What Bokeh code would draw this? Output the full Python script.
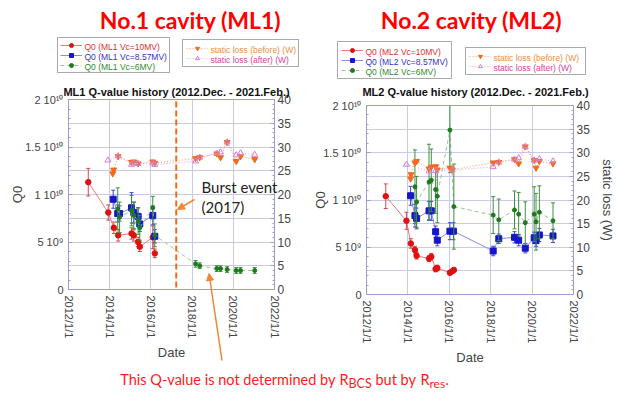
import numpy as np
from bokeh.plotting import figure
from bokeh.models import (Range1d, LinearAxis, FixedTicker, Legend, LegendItem,
                          Label, Arrow, NormalHead, ColumnDataSource, GridBox)
from bokeh.layouts import column
from bokeh.embed import file_html
from bokeh.resources import INLINE

# ---------------- data ----------------
# dates as decimal years, Q0 in units of 1e9, static loss in W
ml1_10mv_date = [2012.96, 2013.93, 2014.20, 2014.41, 2015.06, 2015.17, 2015.38, 2015.46, 2016.09, 2016.19]
ml1_10mv_q0 = [11.3, 8.1, 6.5, 5.7, 5.9, 5.7, 5.0, 4.5, 5.5, 3.8]
ml1_10mv_err = [1.45, 0.8, 0.6, 0.6, 0.6, 0.6, 0.5, 0.5, 1.2, 0.45]

ml1_857mv_date = [2014.17, 2014.39, 2014.48, 2015.06, 2015.17, 2015.38, 2015.46, 2016.09, 2016.19]
ml1_857mv_q0 = [9.5, 8.0, 8.0, 8.6, 8.1, 7.7, 6.9, 7.8, 5.6]
ml1_857mv_err = [0.95, 0.9, 0.8, 1.6, 1.1, 0.9, 0.8, 1.0, 0.7]

ml1_6mv_date = [2014.39, 2014.48, 2015.06, 2015.17, 2015.38, 2015.46, 2016.09, 2016.19,
                2018.17, 2018.37, 2019.20, 2019.38, 2019.70, 2020.14, 2020.35, 2021.04]
ml1_6mv_q0 = [8.5, 7.6, 8.3, 7.8, 7.2, 6.5, 8.6, 5.7, 2.7, 2.5, 2.2, 2.2, 2.1, 2.0, 2.0, 2.0]
ml1_6mv_err = [2.2, 1.6, 1.6, 1.4, 1.4, 1.3, 1.2, 1.2, 0.35, 0.3, 0.3, 0.3, 0.3, 0.3, 0.3, 0.3]

ml1_before_date = [2014.15, 2014.19, 2014.41, 2015.06, 2015.17, 2015.38, 2016.09, 2016.19,
                   2018.17, 2018.37, 2019.20, 2019.38, 2019.70, 2020.14, 2020.35, 2021.04]
ml1_before_w = [24.4, 25.2, 28.0, 26.8, 26.9, 26.5, 26.9, 26.6,
                27.6, 27.8, 28.6, 27.8, 31.0, 27.0, 28.0, 27.4]
ml1_after_date = [2013.91, 2014.41, 2015.06, 2015.17, 2015.38, 2016.09, 2016.19,
                  2018.17, 2018.37, 2019.20, 2019.38, 2019.70, 2020.14, 2020.35, 2021.04]
ml1_after_w = [27.2, 28.1, 26.3, 26.6, 26.5, 26.6, 26.3, 27.0, 27.8, 28.6, 28.9, 31.0, 28.3, 28.7, 28.4]

ml2_10mv_date = [2012.93, 2013.93, 2014.14, 2014.34, 2014.42, 2015.02, 2015.13, 2015.34, 2015.42,
                 2016.03, 2016.14, 2016.22]
ml2_10mv_q0 = [10.4, 7.8, 5.4, 4.7, 4.1, 3.8, 4.0, 2.7, 2.8, 2.3, 2.45, 2.6]
ml2_10mv_err = [1.3, 0.9, 0.5, 0.4, 0.35, 0.3, 0.35, 0.3, 0.3, 0.2, 0.2, 0.2]

ml2_857mv_date = [2014.13, 2014.34, 2014.42, 2015.02, 2015.13, 2015.34, 2015.42, 2016.03, 2016.20,
                  2018.12, 2018.39, 2019.15, 2019.35, 2019.67, 2020.10, 2020.19, 2020.35, 2021.01]
ml2_857mv_q0 = [10.45, 8.35, 8.05, 8.85, 8.85, 6.65, 5.75, 6.7, 6.7,
                4.6, 5.9, 6.05, 5.75, 4.9, 6.0, 5.7, 6.3, 6.2]
ml2_857mv_err = [1.0, 1.2, 1.1, 1.0, 1.0, 0.6, 0.6, 0.9, 0.9,
                 0.5, 0.5, 0.6, 0.6, 0.5, 0.6, 0.6, 0.7, 0.7]

ml2_6mv_date = [2014.34, 2014.42, 2015.02, 2015.13, 2015.34, 2015.42, 2016.03, 2016.22,
                2018.12, 2018.39, 2019.15, 2019.35, 2019.67, 2020.10, 2020.19, 2020.35, 2021.01]
ml2_6mv_q0 = [11.4, 9.8, 11.9, 12.1, 11.1, 10.4, 17.4, 9.3,
              8.4, 7.9, 8.95, 8.5, 7.6, 8.5, 7.7, 8.7, 7.8]
ml2_6mv_err = [3.9, 2.7, 4.0, 3.3, 2.5, 2.8, 4.5, 4.5,
               1.95, 2.2, 2.0, 2.3, 2.2, 2.9, 3.0, 2.8, 1.9]

ml2_before_date = [2014.13, 2014.15, 2014.34, 2014.42, 2015.02, 2015.13, 2015.34, 2015.42, 2016.03, 2016.14,
                   2018.12, 2018.39, 2019.15, 2019.35, 2019.67, 2020.10, 2020.19, 2020.35, 2021.01]
ml2_before_w = [24.5, 25.4, 27.9, 28.2, 26.6, 27.0, 27.1, 26.4, 26.8, 26.4,
                27.9, 28.0, 28.6, 27.7, 31.3, 28.4, 26.8, 28.2, 27.7]
ml2_after_date = [2013.93, 2015.02, 2015.34, 2016.14, 2018.12, 2018.39, 2019.15, 2019.35, 2019.67,
                  2020.10, 2020.35, 2021.01]
ml2_after_w = [27.5, 26.1, 26.2, 26.3, 27.0, 28.0, 28.6, 28.9, 31.3, 28.4, 28.7, 28.2]

burst_date = 2017.23

x_ticks = [2012, 2014, 2016, 2018, 2020, 2022]
x_tick_labels = ["2012/1/1", "2014/1/1", "2016/1/1", "2018/1/1", "2020/1/1", "2022/1/1"]
q_ticks = [0, 5e9, 1e10, 1.5e10, 2e10]
q_tick_labels = ["0", "5 10\u2079", "1 10\u00b9\u2070", "1.5 10\u00b9\u2070", "2 10\u00b9\u2070"]
w_ticks = [0, 5, 10, 15, 20, 25, 30, 35, 40]

# ---------------- styling ----------------
FONT = "Liberation Sans"
FRAME = "#9d9dcf"
GRID = "#c9c9e8"
RED, RED_LINE, RED_BAR = "#e01010", "#e87878", "#d84848"
BLUE, BLUE_LINE, BLUE_BAR = "#1515cc", "#8a8ae2", "#4545d0"
GREEN, GREEN_LINE, GREEN_BAR = "#1e7a1e", "#9cc09c", "#3d8f3d"
ORANGE, ORANGE_LINE = "#f26a1b", "#f4a878"
PINK, PINK_LINE = "#d67fd0", "#e6aee2"
ARROW = "#f08536"
W, H = 617, 391


def make_fig(fw, fh, bl, br, bt, bb, right_label, q_standoff):
    p = figure(frame_width=fw, frame_height=fh, min_border_left=bl, min_border_right=br,
               min_border_top=bt, min_border_bottom=bb,
               x_range=Range1d(2012, 2022), y_range=Range1d(0, 2e10),
               output_backend="svg", toolbar_location=None,
               background_fill_color="white", border_fill_color="white")
    p.frame_align = False
    p.extra_y_ranges = {"loss": Range1d(0, 40)}
    p.outline_line_color = FRAME
    p.outline_line_width = 1

    xa = p.xaxis[0]
    xa.ticker = FixedTicker(ticks=x_ticks)
    xa.major_label_overrides = {t: s for t, s in zip(x_ticks, x_tick_labels)}
    xa.major_label_orientation = "vertical"
    xa.major_label_text_font = FONT
    xa.major_label_text_font_size = "11px"
    xa.major_label_standoff = 6
    xa.axis_label = "Date"
    xa.axis_label_text_font = FONT
    xa.axis_label_text_font_style = "normal"
    xa.axis_label_text_font_size = "13px"
    xa.axis_label_standoff = 4
    xa.major_tick_in = 0
    xa.major_tick_out = 0
    xa.minor_tick_out = 0
    xa.axis_line_color = FRAME

    ya = p.yaxis[0]
    ya.ticker = FixedTicker(ticks=q_ticks, minor_ticks=list(np.arange(0, 2.01e10, 1e9)))
    ya.major_label_overrides = {t: s for t, s in zip(q_ticks, q_tick_labels)}
    ya.major_label_text_font = FONT
    ya.major_label_text_font_size = "11px"
    ya.major_label_standoff = 5
    ya.axis_label = "Q0"
    ya.axis_label_text_font = FONT
    ya.axis_label_text_font_style = "normal"
    ya.axis_label_text_font_size = "13px"
    ya.axis_label_standoff = q_standoff
    ya.major_tick_in = 4
    ya.major_tick_out = 0
    ya.minor_tick_in = 2
    ya.minor_tick_out = 0
    ya.axis_line_color = FRAME
    ya.major_tick_line_color = FRAME
    ya.minor_tick_line_color = FRAME

    ra = LinearAxis(y_range_name="loss",
                    ticker=FixedTicker(ticks=w_ticks, minor_ticks=list(range(0, 41))))
    ra.major_label_text_font = FONT
    ra.major_label_text_font_size = "12px"
    ra.major_label_standoff = 3
    ra.major_tick_in = 4
    ra.major_tick_out = 0
    ra.minor_tick_in = 2
    ra.minor_tick_out = 0
    ra.axis_line_color = FRAME
    ra.major_tick_line_color = FRAME
    ra.minor_tick_line_color = FRAME
    if right_label:
        ra.axis_label = right_label
        ra.axis_label_text_font = FONT
        ra.axis_label_text_font_style = "normal"
        ra.axis_label_text_font_size = "13px"
        ra.axis_label_standoff = 7
    p.add_layout(ra, "right")

    p.xgrid.ticker = FixedTicker(ticks=x_ticks)
    p.ygrid.ticker = FixedTicker(ticks=list(np.arange(0, 2.01e10, 2.5e9)))
    p.xgrid.grid_line_color = GRID
    p.ygrid.grid_line_color = GRID
    return p


def q_series(p, date, q, err, color, bar_color, line_color, marker, size, dash):
    d = np.array(date, dtype=float)
    qv = np.array(q) * 1e9
    ev = np.array(err) * 1e9
    src = ColumnDataSource(dict(x=d, y=qv, lo=qv - ev, hi=qv + ev))
    p.line("x", "y", source=src, line_color=line_color, line_width=1, line_dash=dash)
    p.segment(x0="x", y0="lo", x1="x", y1="hi", source=src, line_color=bar_color, line_width=1)
    p.scatter("x", "lo", source=src, marker="dash", size=4, line_color=bar_color)
    p.scatter("x", "hi", source=src, marker="dash", size=4, line_color=bar_color)
    p.scatter("x", "y", source=src, marker=marker, size=size, fill_color=color, line_color=color)


def loss_series(p, date, w, color, line_color, marker, filled):
    src = ColumnDataSource(dict(x=date, y=w))
    p.line("x", "y", source=src, y_range_name="loss", line_color=line_color,
           line_width=1.2, line_dash="1 2")
    p.scatter("x", "y", source=src, y_range_name="loss", marker=marker, size=6,
              fill_color=color if filled else None, line_color=color, line_width=1)


# ---------------- the two charts ----------------
p1 = make_fig(206, 190, 68, 36, 99, H - 99 - 190, None, -3)
q_series(p1, ml1_10mv_date, ml1_10mv_q0, ml1_10mv_err, RED, RED_BAR, RED_LINE, "circle", 5.5, "solid")
q_series(p1, ml1_857mv_date, ml1_857mv_q0, ml1_857mv_err, BLUE, BLUE_BAR, BLUE_LINE, "square", 6, "solid")
q_series(p1, ml1_6mv_date, ml1_6mv_q0, ml1_6mv_err, GREEN, GREEN_BAR, GREEN_LINE, "circle", 4, "4 3")
loss_series(p1, ml1_before_date, ml1_before_w, ORANGE, ORANGE_LINE, "inverted_triangle", True)
loss_series(p1, ml1_after_date, ml1_after_w, PINK, PINK_LINE, "triangle", False)
p1.segment(x0=[burst_date], y0=[2e8], x1=[burst_date], y1=[2e10], line_color=ORANGE,
           line_width=2, line_dash="6 3")

p2 = make_fig(207, 189, 56, W - 310 - 56 - 207, 105, H - 105 - 189, "static loss (W)", -8)
q_series(p2, ml2_10mv_date, ml2_10mv_q0, ml2_10mv_err, RED, RED_BAR, RED_LINE, "circle", 5.5, "solid")
q_series(p2, ml2_857mv_date, ml2_857mv_q0, ml2_857mv_err, BLUE, BLUE_BAR, BLUE_LINE, "square", 6, "solid")
q_series(p2, ml2_6mv_date, ml2_6mv_q0, ml2_6mv_err, GREEN, GREEN_BAR, GREEN_LINE, "circle", 4, "4 3")
loss_series(p2, ml2_before_date, ml2_before_w, ORANGE, ORANGE_LINE, "inverted_triangle", True)
loss_series(p2, ml2_after_date, ml2_after_w, PINK, PINK_LINE, "triangle", False)

# ---------------- overlay page layer (pixel coordinates, y downwards) ----------------
ov = figure(width=W, height=H, x_range=Range1d(0, W), y_range=Range1d(H, 0),
            x_axis_type=None, y_axis_type=None, min_border=0, output_backend="svg",
            toolbar_location=None, background_fill_alpha=0, border_fill_alpha=0,
            outline_line_color=None)
ov.frame_align = False
ov.xgrid.visible = False
ov.ygrid.visible = False


def proxy(color, line_color, marker, size, dash, width=1, filled=True):
    # legend-only renderers (their single point is NaN, so nothing is drawn on the page)
    ln = ov.line(x=[np.nan], y=[np.nan], line_color=line_color, line_width=width, line_dash=dash)
    mk = ov.scatter(x=[np.nan], y=[np.nan], marker=marker, size=size,
                    fill_color=color if filled else None, line_color=color)
    return [ln, mk]


def boxed_legend(renderers, texts, colors, left, top, pad, glyph_w, text_w):
    ih = 10
    standoff = 3
    hh = 2 * pad + len(texts) * ih
    leg = Legend(items=[LegendItem(label=" ", renderers=r) for r in renderers],
                 location=(left, H - (top + hh)),
                 padding=pad, spacing=0, margin=0, label_height=ih, glyph_height=ih,
                 glyph_width=glyph_w, label_standoff=standoff, label_width=text_w,
                 label_text_font_size="8.5px", border_line_color="#555555",
                 border_line_width=1.5, background_fill_alpha=0)
    ov.add_layout(leg, "center")
    for i, (t, c) in enumerate(zip(texts, colors)):
        ov.add_layout(Label(x=left + pad + glyph_w + standoff, y=top + pad + i * ih + ih / 2,
                            text=t, text_color=c, text_font=FONT, text_font_size="8.5px",
                            text_baseline="middle", text_align="left", level="overlay"))


q_items = [proxy(RED, RED_LINE, "circle", 5.5, "solid"),
           proxy(BLUE, BLUE_LINE, "square", 6, "solid"),
           proxy(GREEN, GREEN_LINE, "circle", 4, "4 3")]
w_items = [proxy(ORANGE, ORANGE_LINE, "inverted_triangle", 6, "1 2", 1.2),
           proxy(PINK, PINK_LINE, "triangle", 6, "1 2", 1.2, filled=False)]
q_text_colors = ["#e03030", "#3333cc", "#2e8b2e"]
w_text_colors = ["#e89048", "#d4449c"]
w_texts = ["static loss (before) (W)", "static loss (after) (W)"]

boxed_legend(q_items, ["Q0 (ML1 Vc=10MV)", "Q0 (ML1 Vc=8.57MV)", "Q0 (ML1 Vc=6MV)"],
             q_text_colors, left=57, top=39, pad=2, glyph_w=22, text_w=82)
boxed_legend(w_items, w_texts, w_text_colors, left=182, top=41, pad=3, glyph_w=22, text_w=84)
boxed_legend(q_items, ["Q0 (ML2 Vc=10MV)", "Q0 (ML2 Vc=8.57MV)", "Q0 (ML2 Vc=6MV)"],
             q_text_colors, left=337, top=43, pad=3, glyph_w=22, text_w=82)
boxed_legend(w_items, w_texts, w_text_colors, left=465, top=49, pad=3, glyph_w=22, text_w=88)


def txt(x, y, t, **kw):
    ov.add_layout(Label(x=x, y=y, text=t, **kw))


txt(190, 19, "No.1 cavity (ML1)", text_color="#ff0000", text_font="Lato",
    text_font_style="bold", text_font_size="23px", text_align="center", text_baseline="middle")
txt(471, 19, "No.2 cavity (ML2)", text_color="#ff0000", text_font="Lato",
    text_font_style="bold", text_font_size="23px", text_align="center", text_baseline="middle")
txt(176, 91, "ML1 Q-value history (2012.Dec. - 2021.Feb.)", text_color="#111111", text_font=FONT,
    text_font_style="bold", text_font_size="11px", text_align="center", text_baseline="middle")
txt(475, 91, "ML2 Q-value history (2012.Dec. - 2021.Feb.)", text_color="#111111", text_font=FONT,
    text_font_style="bold", text_font_size="11px", text_align="center", text_baseline="middle")
txt(201, 186, "Burst event", text_color="#222222", text_font="Lato", text_font_size="15px",
    text_align="left", text_baseline="middle")
txt(201, 206, "(2017)", text_color="#222222", text_font="Lato", text_font_size="15px",
    text_align="left", text_baseline="middle")

NOTE_RED = "#ff1a1a"
NOTE_Y = 379
txt(335, NOTE_Y, "This Q-value is not determined by", text_color=NOTE_RED, text_font="Lato",
    text_font_size="14.5px", text_align="right", text_baseline="middle")
txt(339, NOTE_Y, "R", text_color=NOTE_RED, text_font="Lato", text_font_size="14.5px",
    text_align="left", text_baseline="middle")
txt(348, NOTE_Y + 4, "BCS", text_color=NOTE_RED, text_font="Lato", text_font_size="12.5px",
    text_align="left", text_baseline="middle")
txt(375, NOTE_Y, "but by", text_color=NOTE_RED, text_font="Lato", text_font_size="14.5px",
    text_align="left", text_baseline="middle")
txt(420, NOTE_Y, "R", text_color=NOTE_RED, text_font="Lato", text_font_size="14.5px",
    text_align="left", text_baseline="middle")
txt(429, NOTE_Y + 4, "res", text_color=NOTE_RED, text_font="Lato", text_font_size="12px",
    text_align="left", text_baseline="middle")
txt(445, NOTE_Y, ".", text_color=NOTE_RED, text_font="Lato", text_font_size="14.5px",
    text_align="left", text_baseline="middle")

# arrows (page pixel coordinates)
burst_arrow = dict(x_start=194, y_start=199, x_end=177, y_end=209)
note_arrow = dict(x_start=221.5, y_start=360, x_end=208.5, y_end=273)
for a in (burst_arrow, note_arrow):
    ov.add_layout(Arrow(end=NormalHead(size=7, fill_color=ARROW, line_color=ARROW),
                        line_color=ARROW, line_width=1.5, **a))

grid = GridBox(children=[(p1, 0, 0), (p2, 0, 1), (ov, 0, 0, 1, 2)])
layout = column(grid)
open("out.html", "w").write(file_html(layout, INLINE))
